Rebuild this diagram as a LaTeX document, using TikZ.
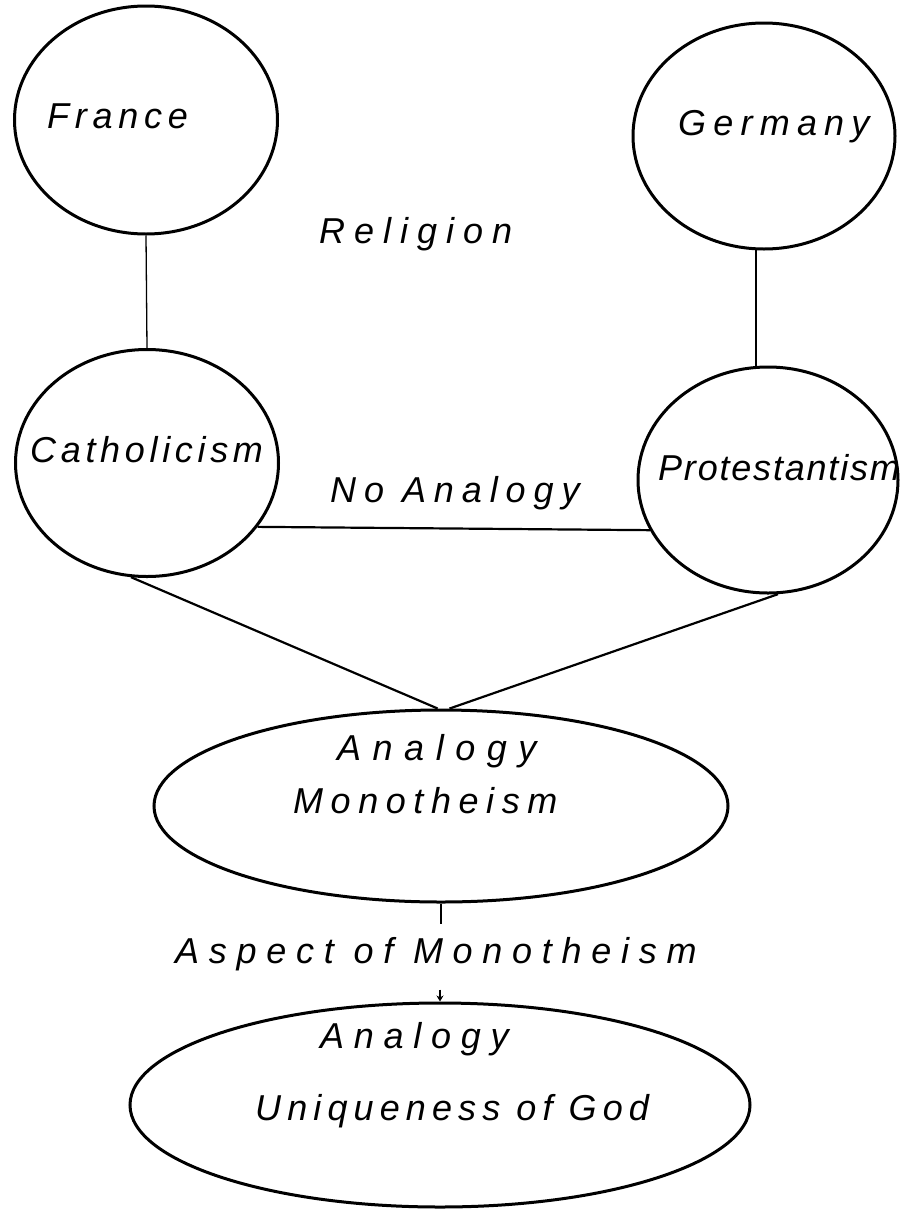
\documentclass[tikz,border=0pt]{standalone}
\usepackage{fontspec}
\newfontfamily\handfont{Liberation Sans}
\usetikzlibrary{shapes.geometric,arrows.meta,calc}
\newcommand{\lsp}[2]{{\addfontfeature{LetterSpace=#1}#2}}
\begin{document}
\begin{tikzpicture}[x=1pt,y=-1pt,
  oval/.style={draw, ellipse, line width=3pt, inner sep=0pt},
  hand/.style={font=\handfont\itshape\fontsize{36}{42}\selectfont, inner sep=0pt, anchor=base west},
  thinline/.style={line width=1.3pt},
  midline/.style={line width=2.2pt}]
\useasboundingbox[fill=white] (0,0) rectangle (900,1210);

% ellipses
\node[oval, minimum width=263pt, minimum height=228pt] (france) at (146,120) {};
\node[oval, minimum width=262pt, minimum height=226pt] (germany) at (764,136) {};
\node[oval, minimum width=263pt, minimum height=227pt] (cath) at (147,463) {};
\node[oval, minimum width=260pt, minimum height=226pt] (prot) at (768,480) {};
\node[oval, minimum width=574pt, minimum height=192pt] (mono) at (441,806) {};
\node[oval, minimum width=620pt, minimum height=204pt] (uniq) at (440,1105) {};

% texts
\node[hand] (tfrance) at (47,128) {\lsp{16}{France}};
\node[hand] (tgermany) at (678,135) {\lsp{20}{Germany}};
\node[hand] (treligion) at (319,243) {\lsp{25}{Religion}};
\node[hand] (tcath) at (30,462) {\lsp{13}{Catholicism}};
\node[hand] (tprot) at (658,480) {\lsp{5}{Protestantism}};
\node[hand] (tnoan) at (330,502) {\lsp{22}{No Analogy}};
\node[hand] (tan1) at (337,760) {\lsp{32}{Analogy}};
\node[hand] (tmono) at (293,813) {\lsp{21}{Monotheism}};
\node[hand] (taspect) at (175,963) {\lsp{27}{Aspect of Monotheism}};
\node[hand] (tan2) at (320,1048) {\lsp{27}{Analogy}};
\node[hand] (tuniq) at (255,1120) {\lsp{17}{Uniqueness of God}};

% connectors
\draw[thinline] (france.south) -- (cath.north);
\draw[thinline] (germany.-94) -- (germany.-94 |- prot.north);
\draw[midline] (cath.-30.6) -- (prot.203.5);
\draw[midline] (cath.-98) -- (mono.92);
\draw[midline] (prot.-85) -- (mono.85);
\coordinate (tickend) at ($(mono.south)+(0,20)$);
\coordinate (arrstart) at ($(uniq.north)+(0,-12)$);
\draw[midline] (mono.south) -- (tickend);
\draw[midline, -{Stealth[length=6pt,width=7pt]}] (arrstart) -- (uniq.north);
\end{tikzpicture}
\end{document}
